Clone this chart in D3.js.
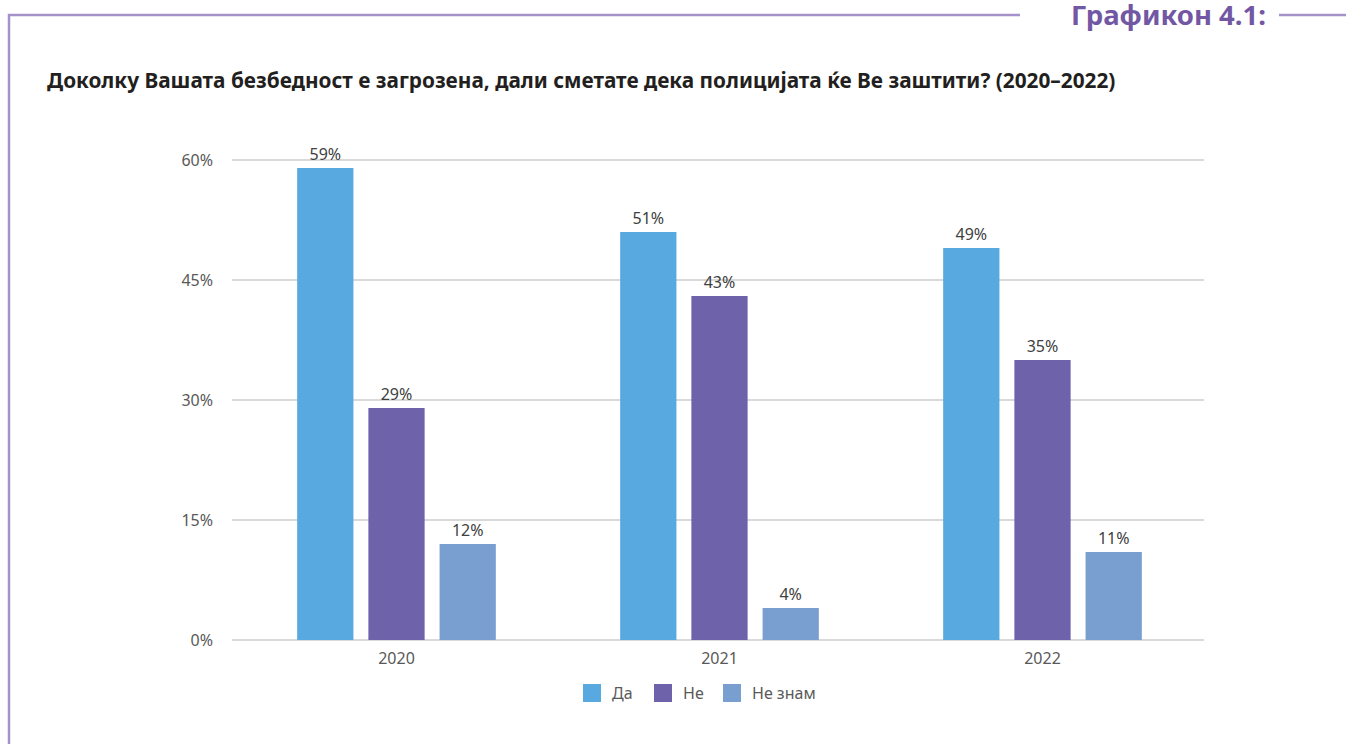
<!DOCTYPE html>
<html>
<head>
<meta charset="utf-8">
<script src="https://cdn.jsdelivr.net/npm/d3@7"></script>
<style>
  body { margin: 0; background: #ffffff; }
  svg { display: block; }
</style>
</head>
<body>
<div id="chart"></div>
<script>
let width = 1358;
let height = 744;

// data
let years = ["2020", "2021", "2022"];
let seriesNames = ["Да", "Не", "Не знам"];
let daValues = [59, 51, 49];
let neValues = [29, 43, 35];
let neZnamValues = [12, 4, 11];
let yTicks = [0, 15, 30, 45, 60];

let seriesColors = ["#57a9df", "#6e62ab", "#789fd0"];
let frameColor = "#a592cb";

let svg = d3.select("#chart")
    .append("svg")
    .attr("width", width)
    .attr("height", height);

// frame with the header sitting in the top line
svg.append("path")
    .attr("d", "M9,744 L9,15 L1020,15")
    .attr("fill", "none")
    .attr("stroke", frameColor)
    .attr("stroke-width", 2.5);

svg.append("line")
    .attr("x1", 1279).attr("x2", 1346)
    .attr("y1", 15).attr("y2", 15)
    .attr("stroke", frameColor)
    .attr("stroke-width", 2.5);

svg.append("text")
    .attr("x", 1266)
    .attr("y", 25)
    .attr("text-anchor", "end")
    .style("font-family", "'Noto Sans', sans-serif")
    .style("font-weight", "bold")
    .style("font-size", "27.5px")
    .attr("fill", "#7257a4")
    .text("Графикон 4.1:");

svg.append("text")
    .attr("x", 47)
    .attr("y", 88)
    .style("font-family", "'Noto Sans', sans-serif")
    .style("font-weight", "bold")
    .style("font-size", "20.8px")
    .attr("fill", "#231f20")
    .text("Доколку Вашата безбедност е загрозена, дали сметате дека полицијата ќе Ве заштити? (2020–2022)");

let margin = { left: 232, right: 1204, top: 160, bottom: 640 };

let x0 = d3.scaleBand()
    .domain(years)
    .range([235, margin.right])
    .paddingInner(0.385)
    .paddingOuter(0.1925);

let x1 = d3.scaleBand()
    .domain(seriesNames)
    .range([0, x0.bandwidth()])
    .paddingInner(0.21)
    .paddingOuter(0);

let y = d3.scaleLinear()
    .domain([0, 60])
    .range([margin.bottom, margin.top]);

let color = d3.scaleOrdinal()
    .domain(seriesNames)
    .range(seriesColors);

// grid lines
svg.append("g")
    .selectAll("line")
    .data(yTicks)
    .join("line")
    .attr("x1", margin.left)
    .attr("x2", margin.right)
    .attr("y1", d => y(d))
    .attr("y2", d => y(d))
    .attr("stroke", "#d9d9d9")
    .attr("stroke-width", 2);

// y axis labels
let yAxis = svg.append("g")
    .attr("transform", "translate(213,0)")
    .call(d3.axisLeft(y).tickValues(yTicks).tickSize(0).tickPadding(0).tickFormat(d => d + "%"));
yAxis.select(".domain").remove();
yAxis.selectAll("text")
    .style("font-family", "'Noto Sans', sans-serif")
    .style("font-size", "16px")
    .attr("fill", "#595959");

// x axis labels
let xAxis = svg.append("g")
    .attr("transform", "translate(0," + (margin.bottom + 13) + ")")
    .call(d3.axisBottom(x0).tickSize(0).tickPadding(0));
xAxis.select(".domain").remove();
xAxis.selectAll("text")
    .style("font-family", "'Noto Sans', sans-serif")
    .style("font-size", "16px")
    .attr("fill", "#595959");

let rows = years.map((yr, i) => ({
    year: yr,
    values: [
        { name: seriesNames[0], value: daValues[i] },
        { name: seriesNames[1], value: neValues[i] },
        { name: seriesNames[2], value: neZnamValues[i] }
    ]
}));

let groups = svg.append("g")
    .selectAll("g")
    .data(rows)
    .join("g")
    .attr("transform", d => "translate(" + x0(d.year) + ",0)");

groups.selectAll("rect")
    .data(d => d.values)
    .join("rect")
    .attr("x", d => x1(d.name))
    .attr("y", d => y(d.value))
    .attr("width", x1.bandwidth())
    .attr("height", d => y(0) - y(d.value))
    .attr("fill", d => color(d.name));

groups.selectAll("text")
    .data(d => d.values)
    .join("text")
    .attr("x", d => x1(d.name) + x1.bandwidth() / 2)
    .attr("y", d => y(d.value) - 8)
    .attr("text-anchor", "middle")
    .style("font-family", "'Noto Sans', sans-serif")
    .style("font-size", "16px")
    .attr("fill", "#404040")
    .text(d => d.value + "%");

// legend
let legendX = [583, 654, 723];
let legend = svg.append("g")
    .selectAll("g")
    .data(seriesNames)
    .join("g")
    .attr("transform", (d, i) => "translate(" + legendX[i] + ",684)");

legend.append("rect")
    .attr("width", 18)
    .attr("height", 18)
    .attr("fill", d => color(d));

legend.append("text")
    .attr("x", 29)
    .attr("y", 15)
    .style("font-family", "'Noto Sans', sans-serif")
    .style("font-size", "16px")
    .attr("fill", "#595959")
    .text(d => d);
</script>
</body>
</html>
